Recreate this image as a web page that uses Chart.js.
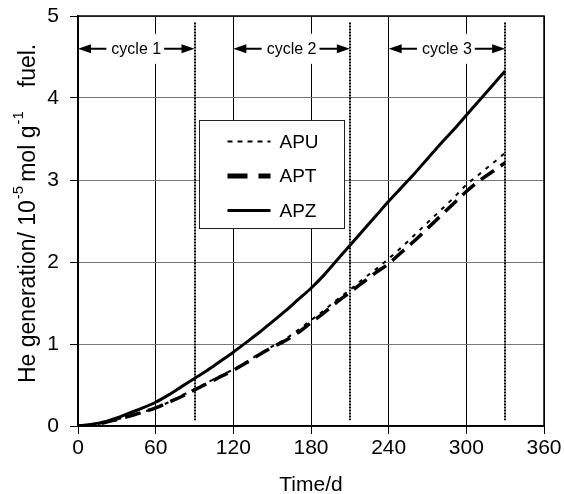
<!DOCTYPE html>
<html>
<head>
<meta charset="utf-8">
<script src="https://cdn.jsdelivr.net/npm/chart.js@4.4.1/dist/chart.umd.min.js"></script>
<style>
html, body { margin: 0; padding: 0; background: #fff; }
</style>
</head>
<body>
<canvas id="heChart" width="564" height="494"></canvas>
<script>
// time in days
const days = [0,10,20,30,40,50,60,70,80,90,100,110,120,130,140,150,160,170,180,190,200,210,220,230,240,250,260,270,280,290,300,310,320,330];

// He generation, 10^-5 mol g^-1 fuel
const apu = [0,0.01,0.04,0.08,0.12,0.17,0.22,0.29,0.37,0.45,0.53,0.61,0.69,0.78,0.88,0.97,1.06,1.17,1.29,1.41,1.54,1.66,1.79,1.91,2.04,2.18,2.33,2.48,2.63,2.78,2.94,3.07,3.20,3.33];
const apt = [0,0.01,0.04,0.08,0.12,0.17,0.22,0.29,0.36,0.44,0.52,0.60,0.68,0.77,0.87,0.96,1.04,1.14,1.26,1.38,1.51,1.63,1.75,1.87,1.98,2.12,2.26,2.41,2.56,2.71,2.86,2.99,3.10,3.21];
const apz = [0,0.02,0.05,0.10,0.16,0.22,0.29,0.38,0.48,0.58,0.68,0.79,0.90,1.02,1.14,1.27,1.40,1.54,1.68,1.84,2.02,2.20,2.38,2.56,2.74,2.91,3.08,3.26,3.44,3.61,3.79,3.97,4.15,4.33];

// irradiation cycles
const cycleNames = ['cycle 1', 'cycle 2', 'cycle 3'];
const cycleStart = [0, 120, 240];
const cycleEnd = [90, 210, 330];

const FONT = "'Liberation Sans', Arial, sans-serif";
Chart.defaults.font.family = FONT;
Chart.defaults.color = '#000';

function pts(ys) {
    return days.map((d, i) => ({ x: d, y: ys[i] }));
}

// black frame round the plot
const framePlugin = {
    id: 'frame',
    beforeDatasetsDraw(chart) {
        const ctx = chart.ctx, a = chart.chartArea;
        ctx.save();
        ctx.strokeStyle = '#000';
        ctx.lineWidth = 1.5;
        ctx.strokeRect(a.left, a.top, a.right - a.left, a.bottom - a.top);
        ctx.restore();
    }
};

// cycle ends (dotted lines) and the arrows with labels
const cyclePlugin = {
    id: 'cycles',
    beforeDatasetsDraw(chart) {
        const ctx = chart.ctx;
        const xs = chart.scales.x, ys = chart.scales.y;
        ctx.save();
        // dotted cycle boundaries
        ctx.strokeStyle = '#000';
        ctx.lineWidth = 2;
        ctx.setLineDash([2, 1]);
        cycleEnd.forEach(d => {
            const px = Math.round(xs.getPixelForValue(d));
            ctx.beginPath();
            ctx.moveTo(px, ys.getPixelForValue(4.92));
            ctx.lineTo(px, ys.getPixelForValue(0.07));
            ctx.stroke();
        });
        ctx.setLineDash([]);

        const y = ys.getPixelForValue(4.6);
        ctx.font = '16px ' + FONT;
        ctx.textAlign = 'center';
        ctx.textBaseline = 'middle';
        cycleNames.forEach((name, i) => {
            const x1 = xs.getPixelForValue(cycleStart[i]);
            const x2 = xs.getPixelForValue(cycleEnd[i]);
            const mid = (x1 + x2) / 2;
            const w = ctx.measureText(name).width;
            const tl = mid - w / 2 - 3, tr = mid + w / 2 + 3;
            ctx.fillStyle = '#fff';
            ctx.fillRect(tl, y - 15, tr - tl, 30);
            ctx.fillStyle = '#000';
            ctx.fillText(name, mid, y + 1);
            ctx.lineWidth = 2;
            ctx.beginPath();
            ctx.moveTo(x1 + 8, y); ctx.lineTo(tl - 2, y);
            ctx.moveTo(tr, y); ctx.lineTo(x2 - 8, y);
            ctx.stroke();
            // heads
            ctx.beginPath();
            ctx.moveTo(x1, y); ctx.lineTo(x1 + 13, y - 4.5); ctx.lineTo(x1 + 13, y + 4.5); ctx.closePath();
            ctx.moveTo(x2, y); ctx.lineTo(x2 - 13, y - 4.5); ctx.lineTo(x2 - 13, y + 4.5); ctx.closePath();
            ctx.fill();
        });
        ctx.restore();
    }
};

// legend box inside the plot
const legendPlugin = {
    id: 'boxLegend',
    afterDatasetsDraw(chart) {
        const ctx = chart.ctx, a = chart.chartArea;
        const bx = a.left + 121.5, by = a.top + 104.5;
        ctx.save();
        ctx.fillStyle = '#fff';
        ctx.fillRect(bx, by, 145, 108);
        ctx.strokeStyle = '#222';
        ctx.lineWidth = 1;
        ctx.strokeRect(bx, by, 145, 108);
        ctx.font = '19px ' + FONT;
        ctx.textAlign = 'left';
        ctx.textBaseline = 'middle';
        chart.data.datasets.forEach((ds, i) => {
            const y = by + 21 + i * 34.5;
            ctx.strokeStyle = '#000';
            ctx.lineWidth = ds.legendWidth;
            ctx.setLineDash(ds.legendDash);
            ctx.beginPath();
            ctx.moveTo(bx + 28, y);
            ctx.lineTo(bx + 71, y);
            ctx.stroke();
            ctx.setLineDash([]);
            ctx.fillStyle = '#000';
            ctx.fillText(ds.label, bx + 80, y + 1);
        });
        ctx.restore();
    }
};

// axis titles, the y one with superscripts
const titlePlugin = {
    id: 'axisTitles',
    afterDraw(chart) {
        const ctx = chart.ctx, a = chart.chartArea;
        ctx.save();
        ctx.fillStyle = '#000';
        ctx.font = '21px ' + FONT;
        ctx.textAlign = 'center';
        ctx.textBaseline = 'middle';
        ctx.fillText('Time/d', (a.left + a.right) / 2, 485);

        ctx.translate(35, 383);
        ctx.rotate(-Math.PI / 2);
        ctx.textAlign = 'left';
        ctx.textBaseline = 'alphabetic';
        const big = '23px ' + FONT, small = '15px ' + FONT;
        const parts = [
            ['He generation/ 10', big, 0, 0],
            ['-5', small, -12, 1],
            ['mol g', big, 0, 4],
            ['-1', small, -12, 1],
            ['fuel.', big, 0, 24]
        ];
        let x = 0;
        parts.forEach(p => {
            x += p[3];
            ctx.font = p[1];
            ctx.fillText(p[0], x, p[2]);
            x += ctx.measureText(p[0]).width;
        });
        ctx.restore();
    }
};

const ctxHe = document.getElementById('heChart').getContext('2d');
const heChart = new Chart(ctxHe, {
    type: 'line',
    data: {
        datasets: [{
            label: 'APU',
            data: pts(apu),
            borderColor: '#000',
            borderWidth: 2,
            borderDash: [4, 6],
            legendWidth: 2,
            legendDash: [5, 5]
        },
        {
            label: 'APT',
            data: pts(apt),
            borderColor: '#000',
            borderWidth: 3.5,
            borderDash: [16, 8],
            legendWidth: 5,
            legendDash: [20, 11]
        },
        {
            label: 'APZ',
            data: pts(apz),
            borderColor: '#000',
            borderWidth: 3,
            legendWidth: 3,
            legendDash: []
        }]
    },
    options: {
        responsive: false,
        animation: false,
        devicePixelRatio: 1,
        layout: { padding: { left: 0, right: 20, top: 16, bottom: 0 } },
        elements: {
            point: { radius: 0 },
            line: { cubicInterpolationMode: 'monotone', fill: false }
        },
        plugins: {
            legend: { display: false },
            tooltip: { enabled: false }
        },
        scales: {
            x: {
                type: 'linear',
                min: 0,
                max: 360,
                ticks: { stepSize: 60, font: { size: 21 }, color: '#000', padding: 2, maxRotation: 0 },
                grid: { color: '#000', lineWidth: 1, tickColor: '#000', tickLength: 8 },
                border: { color: '#000', width: 1.5 },
                afterFit(scale) { scale.height = 68; }
            },
            y: {
                min: 0,
                max: 5,
                ticks: { stepSize: 1, font: { size: 21 }, color: '#000', padding: 11 },
                grid: { color: '#777', lineWidth: 1, tickColor: '#000', tickLength: 8 },
                border: { color: '#000', width: 1.5 },
                afterFit(scale) {
                    scale.width = 78;
                    scale.paddingTop = 0;
                    scale.paddingBottom = 0;
                }
            }
        }
    },
    plugins: [framePlugin, cyclePlugin, legendPlugin, titlePlugin]
});
</script>
</body>
</html>
